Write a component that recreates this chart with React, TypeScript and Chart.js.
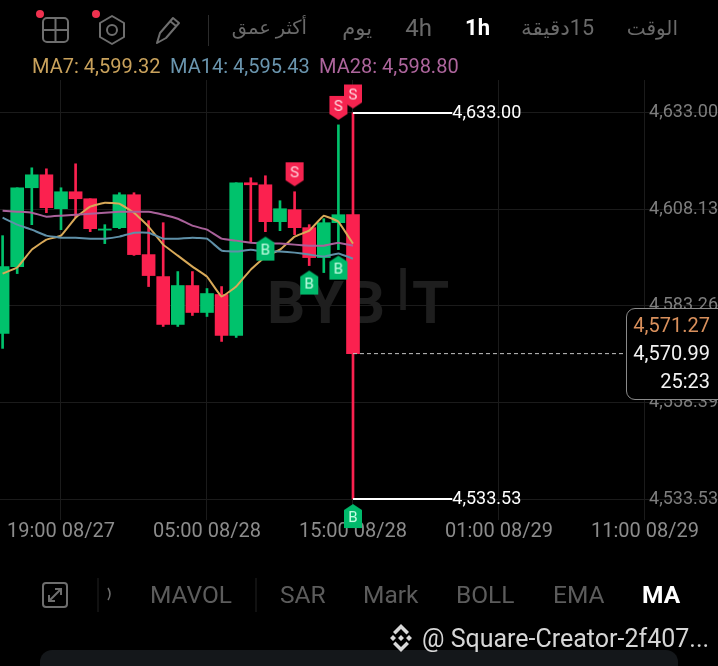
import React, { useEffect, useRef } from "react";
import { Chart, registerables } from "chart.js";

Chart.register(...registerables);

const FONT = "Roboto, 'DejaVu Sans', sans-serif";

// hours from 19:00 08/27
const candleHours = [-4, -3, -2, -1, 0, 1, 2, 3, 4, 5, 6, 7, 8, 9, 10, 11, 12, 13, 14, 15, 16, 17, 18, 19, 20];
const opens = [4576.19, 4593.41, 4613.72, 4617.06, 4608.32, 4612.69, 4610.89, 4602.8, 4603.44, 4611.92, 4596.5, 4590.84, 4578.51, 4588.53, 4581.59, 4586.22, 4575.68, 4615.01, 4614.49, 4604.98, 4608.07, 4603.44, 4595.73, 4604.72, 4606.78];
const highs = [4601.38, 4613.72, 4618.86, 4618.6, 4613.72, 4619.89, 4610.89, 4604.21, 4612.44, 4612.44, 4605.24, 4604.72, 4592.13, 4592.13, 4587.76, 4588.27, 4615.01, 4616.29, 4616.81, 4610.38, 4612.69, 4604.21, 4605.75, 4629.92, 4633.0];
const lows = [4572.34, 4591.61, 4604.21, 4607.3, 4602.92, 4606.01, 4602.41, 4599.33, 4603.18, 4596.3, 4588.27, 4577.99, 4577.99, 4580.82, 4580.56, 4574.13, 4575.16, 4599.58, 4602.41, 4602.67, 4601.64, 4593.67, 4591.87, 4597.78, 4533.53];
const closes = [4593.41, 4613.72, 4617.06, 4608.58, 4612.69, 4610.89, 4603.18, 4603.1, 4611.92, 4596.5, 4591.1, 4578.51, 4588.53, 4581.59, 4586.47, 4575.68, 4615.01, 4614.49, 4604.98, 4608.32, 4603.44, 4595.73, 4604.72, 4606.78, 4570.99];
const ma7 = [4591.61, 4593.16, 4597.78, 4600.35, 4601.38, 4606.01, 4608.84, 4609.87, 4609.61, 4607.3, 4603.7, 4599.07, 4596.24, 4593.41, 4590.84, 4585.7, 4588.27, 4592.64, 4595.99, 4597.78, 4601.13, 4602.67, 4606.52, 4604.98, 4599.32];
const ma14 = [4606.01, 4604.21, 4602.92, 4601.38, 4600.87, 4600.87, 4600.61, 4600.61, 4601.13, 4602.15, 4602.15, 4600.61, 4600.61, 4600.87, 4600.61, 4597.53, 4597.27, 4597.78, 4597.27, 4597.27, 4597.01, 4596.5, 4595.99, 4596.76, 4595.43];
const ma28 = [4607.81, 4607.55, 4607.3, 4606.27, 4606.52, 4606.78, 4607.04, 4607.3, 4607.55, 4607.55, 4607.55, 4606.78, 4605.75, 4603.95, 4602.92, 4600.61, 4600.1, 4599.58, 4599.33, 4599.33, 4599.07, 4598.81, 4598.81, 4599.58, 4598.8];

const sellHours = [16, 19, 20];
const sellPrices = [4617.19, 4634.29, 4637.24];
const buyHours = [14, 17, 19, 20];
const buyPrices = [4598.04, 4589.3, 4593.16, 4529.15];

const yTickValues = [4633.0, 4608.13, 4583.26, 4558.39, 4533.53];
const yTickLabels = ["4,633.00", "4,608.13", "4,583.26", "4,558.39", "4,533.53"];
const xTickHours = [0, 10, 20, 30, 40];
const xTickLabels = ["19:00 08/27", "05:00 08/28", "15:00 08/28", "01:00 08/29", "11:00 08/29"];

const highPrice = 4633.0;
const lowPrice = 4533.53;
const lastPrice = 4570.99;
const markPrice = "4,571.27";
const lastPriceLabel = "4,570.99";
const countdown = "25:23";
const maLegend = [
  { text: "MA7: 4,599.32", left: 32, color: "#c9a25c" },
  { text: "MA14: 4,595.43", left: 170, color: "#6a95ae" },
  { text: "MA28: 4,598.80", left: 319, color: "#ad659c" },
];
const topTabs = [
  { text: "الوقت", right: 40, size: 20, active: false },
  { text: "15دقيقة", right: 124, size: 21.5, active: false },
  { text: "1h", right: 228, size: 22, active: true },
  { text: "4h", right: 286, size: 24, active: false },
  { text: "يوم", right: 346, size: 21, active: false },
  { text: "أكثر عمق", right: 411, size: 19.5, active: false },
];
const bottomTabs = [
  { text: "MAVOL", left: 150, active: false },
  { text: "SAR", left: 280, active: false },
  { text: "Mark", left: 363, active: false },
  { text: "BOLL", left: 456, active: false },
  { text: "EMA", left: 553, active: false },
  { text: "MA", left: 642, active: true },
];

const GREEN = "#00c26c";
const RED = "#fb214f";
const isUp = (i: number) => closes[i] >= opens[i];
const candleColors = candleHours.map((_, i) => (isUp(i) ? GREEN : RED));

function makeMarker(letter: string, sell: boolean) {
  const c = document.createElement("canvas");
  c.width = 20;
  c.height = 26;
  const g = c.getContext("2d")!;
  g.fillStyle = sell ? "#f5234f" : "#00b96b";
  g.beginPath();
  if (sell) {
    g.moveTo(1, 1);
    g.lineTo(19, 1);
    g.lineTo(19, 19);
    g.lineTo(10, 25);
    g.lineTo(1, 19);
  } else {
    g.moveTo(10, 1);
    g.lineTo(19, 7);
    g.lineTo(19, 25);
    g.lineTo(1, 25);
    g.lineTo(1, 7);
  }
  g.closePath();
  g.fill();
  g.fillStyle = sell ? "#ffd7df" : "#c8ffe6";
  g.font = `15px ${FONT}`;
  g.textAlign = "center";
  g.textBaseline = "middle";
  g.fillText(letter, 10, sell ? 12 : 15);
  return c;
}

const watermarkPlugin = {
  id: "bybitWatermark",
  beforeDatasetsDraw(chart: any) {
    const g = chart.ctx;
    g.save();
    g.fillStyle = "#1e1e1e";
    g.font = `bold 60px ${FONT}`;
    g.textBaseline = "alphabetic";
    g.textAlign = "left";
    (g as any).letterSpacing = "3px";
    g.fillText("BYB", 267, 323);
    g.fillText("T", 412, 323);
    (g as any).letterSpacing = "0px";
    g.font = `59px ${FONT}`;
    g.fillText("I", 395, 310);
    g.restore();
  },
};

const extremeLabelPlugin = {
  id: "extremeLabels",
  afterDatasetsDraw(chart: any) {
    const g = chart.ctx;
    const x = chart.scales.x.getPixelForValue(26.8);
    g.save();
    g.fillStyle = "#ffffff";
    g.font = `18px ${FONT}`;
    g.textBaseline = "middle";
    g.textAlign = "left";
    g.fillText(yTickLabels[0], x, chart.scales.y.getPixelForValue(highPrice) + 1);
    g.fillText(yTickLabels[4], x, chart.scales.y.getPixelForValue(lowPrice));
    g.restore();
  },
};

const txt = (color: string, size: number, y: number, bold = false): React.CSSProperties => ({
  position: "absolute",
  top: y - 20,
  height: 40,
  lineHeight: "40px",
  color,
  fontSize: size,
  fontFamily: FONT,
  fontWeight: bold ? 700 : 400,
  whiteSpace: "nowrap",
});

export default function App() {
  const ref = useRef<HTMLCanvasElement>(null);

  useEffect(() => {
    document.documentElement.style.background = "#000";
    document.body.style.background = "#000";
    const series = (arr: number[]) => arr.map((y, i) => ({ x: candleHours[i], y }));
    const maSet = (data: number[], color: string) => ({
      type: "line",
      data: series(data),
      borderColor: color,
      borderWidth: 2,
      pointRadius: 0,
      tension: 0.08,
      order: 2,
    });
    const chart = new Chart(ref.current!, {
      type: "bar",
      plugins: [watermarkPlugin, extremeLabelPlugin],
      data: {
        datasets: [
          {
            type: "line",
            data: buyHours.map((x, i) => ({ x, y: buyPrices[i] })),
            showLine: false,
            pointStyle: makeMarker("B", false),
            pointRadius: 10,
            clip: false,
            order: 0,
          },
          {
            type: "line",
            data: sellHours.map((x, i) => ({ x, y: sellPrices[i] })),
            showLine: false,
            pointStyle: makeMarker("S", true),
            pointRadius: 10,
            clip: false,
            order: 0,
          },
          {
            type: "line",
            data: [{ x: 20, y: highPrice }, { x: 26.8, y: highPrice }],
            borderColor: "#ffffff",
            borderWidth: 2,
            pointRadius: 0,
            order: 1,
          },
          {
            type: "line",
            data: [{ x: 20, y: lowPrice }, { x: 26.8, y: lowPrice }],
            borderColor: "#ffffff",
            borderWidth: 2,
            pointRadius: 0,
            order: 1,
          },
          {
            type: "line",
            data: [{ x: 20, y: lastPrice }, { x: 39, y: lastPrice }],
            borderColor: "#c4c4c4",
            borderWidth: 1,
            borderDash: [4, 3],
            pointRadius: 0,
            order: 1,
          },
          maSet(ma28, "#a9619a"),
          maSet(ma14, "#5f90a8"),
          maSet(ma7, "#d8a958"),
          {
            type: "bar",
            data: candleHours.map((x, i) => ({ x, y: [opens[i], closes[i]] })),
            backgroundColor: candleColors,
            barThickness: 13,
            grouped: false,
            order: 3,
          },
          {
            type: "bar",
            data: candleHours.map((x, i) => ({ x, y: [lows[i], highs[i]] })),
            backgroundColor: candleColors,
            barThickness: 2,
            grouped: false,
            order: 4,
          },
        ] as any,
      },
      options: {
        animation: false,
        responsive: false,
        devicePixelRatio: 1,
        layout: { autoPadding: false, padding: { top: 80, bottom: 116, left: 0, right: 0 } },
        plugins: { legend: { display: false }, tooltip: { enabled: false } },
        scales: {
          x: {
            type: "linear",
            offset: false,
            min: -4.178,
            max: 45,
            grid: { color: "#1b1b1b", offset: false, drawTicks: false },
            border: { display: false },
            afterBuildTicks: (s: any) => {
              s.ticks = xTickHours.map((value) => ({ value }));
            },
            afterFit: (s: any) => {
              s.height = 30;
              s.paddingLeft = 0;
              s.paddingRight = 0;
            },
            ticks: {
              autoSkip: false,
              maxRotation: 0,
              padding: 0,
              color: "#8c8c8c",
              font: { family: FONT, size: 20 },
              callback: (v: any) => xTickLabels[xTickHours.indexOf(v)],
            },
          },
          y: {
            type: "linear",
            position: "right",
            min: 4528.13,
            max: 4641.48,
            grid: { color: "#1b1b1b", drawTicks: false },
            border: { display: false },
            afterBuildTicks: (s: any) => {
              s.ticks = yTickValues.map((value) => ({ value }));
            },
            afterFit: (s: any) => {
              s.width = 0;
              s.paddingTop = 0;
              s.paddingBottom = 0;
            },
            ticks: {
              mirror: true,
              padding: 0,
              color: "#7e7e7e",
              font: { family: FONT, size: 18 },
              callback: (v: any) => yTickLabels[yTickValues.indexOf(v)],
            },
          },
        },
      } as any,
    });
    return () => chart.destroy();
  }, []);

  const gray = "#6a6a6a";
  return (
    <div style={{ position: "absolute", left: 0, top: 0, width: 718, height: 666, background: "#000", overflow: "hidden" }}>
      <canvas ref={ref} width={718} height={666} style={{ position: "absolute", left: 0, top: 0, display: "block" }} />

      {topTabs.map((t) => (
        <span key={t.text} dir="rtl" style={{ ...txt(t.active ? "#fff" : gray, t.size, 28, t.active), right: t.right }}>
          {t.text}
        </span>
      ))}
      <div style={{ position: "absolute", left: 208, top: 15, width: 1, height: 31, background: "#2b2b2b" }} />
      <svg width={718} height={50} style={{ position: "absolute", left: 0, top: 0 }} fill="none" stroke="#6e6e6e" strokeWidth={2}>
        <rect x={43} y={18} width={25} height={24} rx={4} />
        <path d="M55.5 18V42M43 30H68" />
        <path d="M112 16L124 23V37L112 44L100 37V23Z" strokeLinejoin="round" />
        <circle cx={112} cy={30} r={5} />
        <path d="M157 43L160 33L173 18L179 23L166 38Z M170 21L176 26" strokeLinejoin="round" />
        <circle cx={40} cy={14} r={4} fill="#f0314f" stroke="none" />
        <circle cx={96} cy={14} r={4} fill="#f0314f" stroke="none" />
      </svg>

      {maLegend.map((m) => (
        <span key={m.text} style={{ ...txt(m.color, 20, 66), left: m.left }}>
          {m.text}
        </span>
      ))}

      <div style={{ position: "absolute", left: 626, top: 308, width: 110, height: 92, background: "#000", border: "1.5px solid #8a8a8a", borderRadius: 9, boxSizing: "border-box" }} />
      <span style={{ ...txt("#d9905c", 20, 325), right: 8 }}>{markPrice}</span>
      <span style={{ ...txt("#f2f2f2", 20, 353), right: 8 }}>{lastPriceLabel}</span>
      <span style={{ ...txt("#f2f2f2", 20, 381), right: 8 }}>{countdown}</span>

      <svg width={718} height={60} style={{ position: "absolute", left: 0, top: 565 }} fill="none">
        <rect x={43} y={18} width={24} height={24} rx={3} stroke="#6e6e6e" strokeWidth={2} />
        <path d="M49 36L61 24M55 24H61V30M49 30V36H55" stroke="#6e6e6e" strokeWidth={2} />
        <path d="M98 13V47M256 13V47" stroke="#222" strokeWidth={1} />
        <path d="M108 23Q112 29 108 35" stroke="#6e6e6e" strokeWidth={1.5} />
      </svg>
      {bottomTabs.map((t) => (
        <span key={t.text} style={{ ...txt(t.active ? "#fff" : "#5c5c5c", 24.5, 595, t.active), left: t.left }}>
          {t.text}
        </span>
      ))}

      <div style={{ position: "absolute", left: 40, top: 650, width: 638, height: 40, borderRadius: 12, background: "#14171a" }} />
      <svg width={26} height={30} viewBox="0 0 26 30" style={{ position: "absolute", left: 388, top: 623 }} fill="#d8d8d8">
        <path d="M13 1L21 9L18.5 11.5L13 6L7.5 11.5L5 9Z" />
        <path d="M5 12L8 15L5 18L2 15Z M21 12L24 15L21 18L18 15Z M13 12L16 15L13 18L10 15Z" />
        <path d="M7.5 18.5L13 24L18.5 18.5L21 21L13 29L5 21Z" />
      </svg>
      <span style={{ ...txt("#d6d6d6", 25, 639), left: 422 }}>@ Square-Creator-2f407...</span>
    </div>
  );
}
